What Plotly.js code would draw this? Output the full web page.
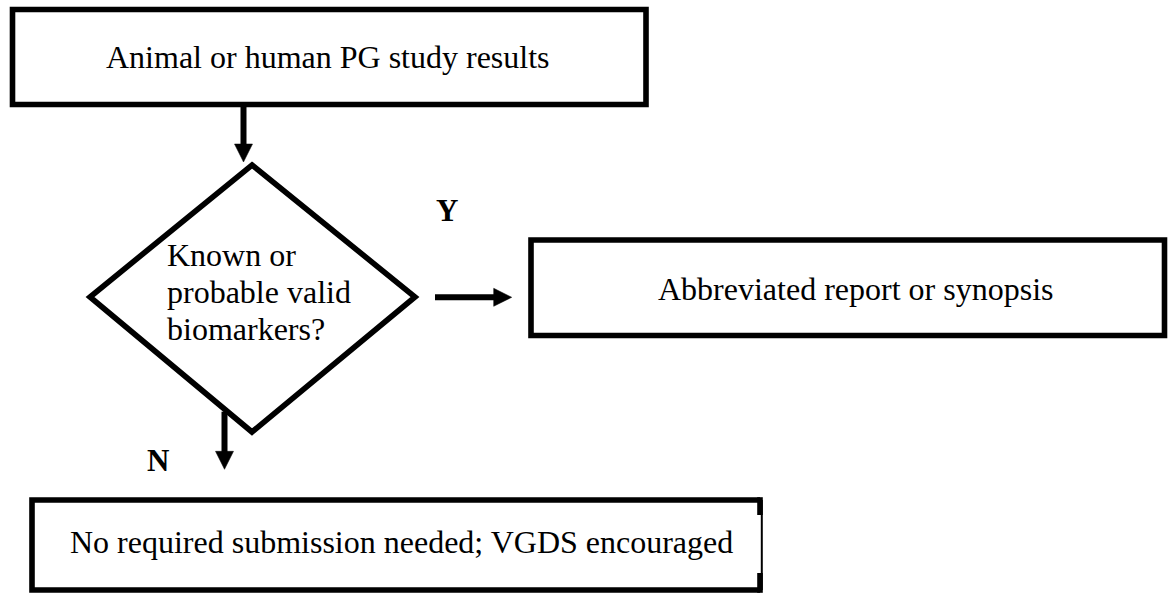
<!DOCTYPE html>
<html>
<head>
<meta charset="utf-8">
<script src="https://cdn.plot.ly/plotly-3.0.1.min.js"></script>
<style>
  html, body { margin: 0; padding: 0; background: #ffffff; }
  #chart { width: 1169px; height: 593px; }
</style>
</head>
<body>
<div id="chart"></div>
<script>
// ---- Flowchart content (pixel coordinates of the 1169x593 canvas) ----
const nodeLabels = [
  "Animal or human PG study results",
  "Abbreviated report or synopsis",
  "No required submission needed; VGDS encouraged"
];
const nodeX0 = [12.5, 531, 32];
const nodeX1 = [646, 1164.5, 760];
const nodeY0 = [9.5, 240, 500];
const nodeY1 = [104.5, 335.5, 590];
const nodeTextX = [328, 855, 401];
const nodeTextY = [57.2, 289.2, 541.9];

const diamondX = [252, 415, 252, 90];
const diamondY = [165, 297, 432, 297];
const diamondLines = ["Known or", "probable valid", "biomarkers?"];
const diamondTextX = [164.7, 164.7, 164.7];
const diamondTextY = [255.2, 291.9, 328.5];

const branchLabels = ["Y", "N"];
const branchX = [446.7, 157.5];
const branchY = [210.9, 460.9];

const arrowFromX = [243.5, 435, 224.5];
const arrowFromY = [107, 297.3, 411.7];
const arrowToX = [243.5, 511.7, 224.5];
const arrowToY = [162, 297.3, 469.3];

// ---- styling ----
const FONT = '"Liberation Serif", "Times New Roman", serif';
const INK = '#000000';
const LW = 5.6;
const HEAD_LEN = 18;
const HEAD_HALF = 9;

const shapes = [];

// boxes (box 1 and 2 as rectangles; box 3 with a thinner middle stretch on its right side)
for (let i = 0; i < nodeLabels.length; i++) {
  if (i < 2) {
    shapes.push({type: 'rect', xref: 'x', yref: 'y',
      x0: nodeX0[i], x1: nodeX1[i], y0: nodeY0[i], y1: nodeY1[i],
      line: {color: INK, width: LW}, fillcolor: 'rgba(0,0,0,0)'});
  } else {
    const x0 = nodeX0[i], x1 = nodeX1[i], y0 = nodeY0[i], y1 = nodeY1[i];
    shapes.push({type: 'path', xref: 'x', yref: 'y',
      path: `M ${x1} ${y0} L ${x0} ${y0} L ${x0} ${y1} L ${x1} ${y1}`,
      line: {color: INK, width: LW}});
    shapes.push({type: 'line', xref: 'x', yref: 'y',
      x0: x1, x1: x1, y0: y0 - LW / 2, y1: y0 + 15,
      line: {color: INK, width: LW}});
    shapes.push({type: 'line', xref: 'x', yref: 'y',
      x0: x1, x1: x1, y0: y1 - 17, y1: y1 + LW / 2,
      line: {color: INK, width: LW}});
    shapes.push({type: 'line', xref: 'x', yref: 'y',
      x0: x1 + 1.8, x1: x1 + 1.8, y0: y0, y1: y1,
      line: {color: INK, width: 2}});
  }
}

// diamond
let dpath = `M ${diamondX[0]} ${diamondY[0]}`;
for (let k = 1; k < diamondX.length; k++) dpath += ` L ${diamondX[k]} ${diamondY[k]}`;
dpath += ' Z';
shapes.push({type: 'path', xref: 'x', yref: 'y', path: dpath,
  line: {color: INK, width: LW}, fillcolor: 'rgba(0,0,0,0)'});

// arrows: shaft + filled head
for (let i = 0; i < arrowFromX.length; i++) {
  const fx = arrowFromX[i], fy = arrowFromY[i], tx = arrowToX[i], ty = arrowToY[i];
  const dx = tx - fx, dy = ty - fy;
  const len = Math.sqrt(dx * dx + dy * dy);
  const ux = dx / len, uy = dy / len;
  const bx = tx - ux * HEAD_LEN, by = ty - uy * HEAD_LEN;
  const px = -uy, py = ux;
  shapes.push({type: 'line', xref: 'x', yref: 'y',
    x0: fx, y0: fy, x1: bx + ux * 1, y1: by + uy * 1,
    line: {color: INK, width: 6}});
  shapes.push({type: 'path', xref: 'x', yref: 'y',
    path: `M ${tx} ${ty} L ${bx + px * HEAD_HALF} ${by + py * HEAD_HALF} L ${bx - px * HEAD_HALF} ${by - py * HEAD_HALF} Z`,
    fillcolor: INK, line: {color: INK, width: 0.5}});
}

// texts
const annotations = [];
for (let i = 0; i < nodeLabels.length; i++) {
  annotations.push({xref: 'x', yref: 'y', x: nodeTextX[i], y: nodeTextY[i],
    text: nodeLabels[i], showarrow: false, xanchor: 'center', yanchor: 'middle',
    font: {family: FONT, size: 32, color: INK}});
}
for (let i = 0; i < diamondLines.length; i++) {
  annotations.push({xref: 'x', yref: 'y', x: diamondTextX[i], y: diamondTextY[i],
    text: diamondLines[i], showarrow: false, xanchor: 'left', yanchor: 'middle', align: 'left',
    font: {family: FONT, size: 32, color: INK}});
}
for (let i = 0; i < branchLabels.length; i++) {
  annotations.push({xref: 'x', yref: 'y', x: branchX[i], y: branchY[i],
    text: '<b>' + branchLabels[i] + '</b>', showarrow: false, xanchor: 'center', yanchor: 'middle',
    font: {family: FONT, size: 31, color: INK}});
}

const layout = {
  width: 1169, height: 593,
  margin: {l: 0, r: 0, t: 0, b: 0, pad: 0},
  paper_bgcolor: '#ffffff', plot_bgcolor: '#ffffff',
  showlegend: false,
  xaxis: {range: [0, 1169], visible: false, fixedrange: true},
  yaxis: {range: [593, 0], visible: false, fixedrange: true},
  shapes: shapes,
  annotations: annotations
};

Plotly.newPlot('chart', [], layout, {displayModeBar: false, staticPlot: true});
</script>
</body>
</html>
